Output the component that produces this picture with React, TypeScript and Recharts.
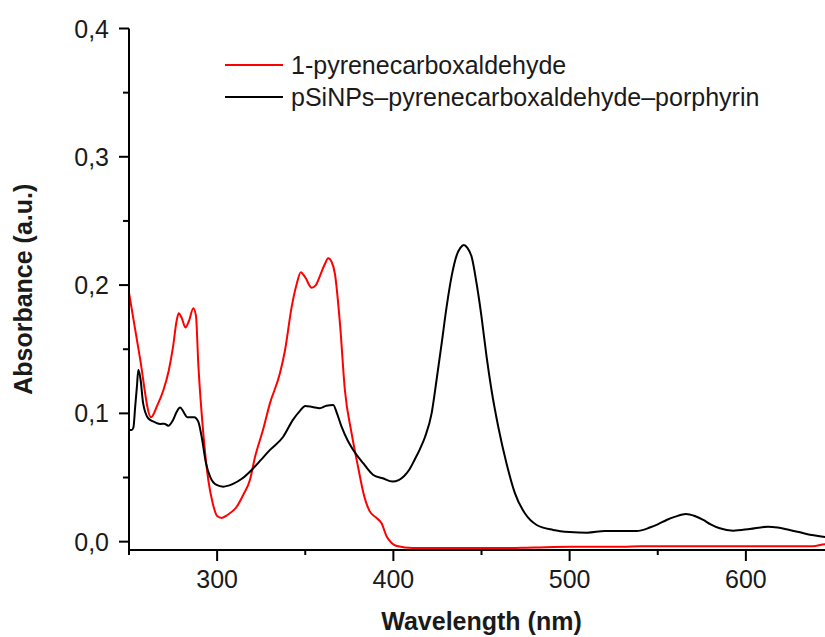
import React from "react"
import { LineChart, Line, XAxis, YAxis, Legend } from "recharts"

const FONT = "'Liberation Sans', Arial, sans-serif"
const TEXT = "#1a1a1a"

// 1-pyrenecarboxaldehyde
const pyreneWl = [
  250, 256, 262.5, 266, 269.5, 272.5, 275, 277, 278.2, 280, 282, 284, 286.5, 288,
  289.3, 292, 295, 297.5, 300, 302.6, 306, 311, 315, 318.6, 321.5, 326, 330, 335.6,
  338.5, 342.3, 345, 347.5, 350, 353.6, 356, 358.3, 361, 363, 365, 366.8, 369.7,
  372.5, 376.3, 380, 383, 386.7, 390, 393.3, 396.2, 399, 402, 411, 430, 460, 480,
  500, 530, 540, 560, 600, 638, 645, 650,
]
const pyreneAbs = [
  0.194, 0.145, 0.097, 0.106, 0.118, 0.133, 0.152, 0.172, 0.178, 0.174, 0.167, 0.172, 0.182, 0.176,
  0.139, 0.087, 0.048, 0.03, 0.02, 0.0185, 0.021, 0.027, 0.037, 0.048, 0.066, 0.087, 0.108, 0.131,
  0.149, 0.183, 0.2, 0.21, 0.206, 0.198, 0.2, 0.207, 0.216, 0.221, 0.218, 0.209, 0.17,
  0.118, 0.0845, 0.058, 0.038, 0.0234, 0.019, 0.0143, 0.004, -0.001, -0.0034, -0.005, -0.005, -0.005, -0.0045,
  -0.004, -0.004, -0.0035, -0.0035, -0.0035, -0.0035, -0.002, -0.002,
]

// pSiNPs–pyrenecarboxaldehyde–porphyrin
const hybridWl = [
  250, 251.5, 252.5, 253.5, 254.5, 255.3, 256.6, 258, 261, 264, 267.6, 270, 272.3, 275,
  277, 279, 281, 283, 285, 287, 289.3, 291.2, 293.7, 296, 299.7, 303.5, 309, 314, 320,
  325, 330, 337.5, 343, 347, 350, 354, 358.3, 362, 365.9, 368, 370.6, 374, 377.2, 383,
  388.6, 394, 399.5, 403, 406, 409, 412, 415, 418, 421.7, 424.5, 427.4, 430.2, 433, 436,
  438, 440, 442, 444.4, 447.2, 450, 452.9, 455.7, 459.5, 464.2, 469, 474.6, 481.3, 490.7,
  500, 510, 520, 530, 538, 545.5, 550, 555, 560, 566, 571, 575.8, 580, 585.2, 592.8,
  602.2, 612.6, 618, 623, 630, 634.4, 643.8, 650,
]
const hybridAbs = [
  0.087, 0.087, 0.089, 0.105, 0.121, 0.134, 0.126, 0.108, 0.096, 0.0935, 0.0917, 0.092, 0.0904, 0.0949,
  0.101, 0.1045, 0.101, 0.097, 0.097, 0.097, 0.0935, 0.082, 0.061, 0.0507, 0.0442, 0.0429, 0.045, 0.049, 0.0565,
  0.064, 0.0715, 0.0818, 0.0949, 0.102, 0.1058, 0.105, 0.104, 0.106, 0.1066, 0.1, 0.0896, 0.079, 0.0715, 0.061,
  0.052, 0.0494, 0.0468, 0.048, 0.051, 0.056, 0.0637, 0.072, 0.0818, 0.1, 0.126, 0.1546, 0.183, 0.2066, 0.2235,
  0.229, 0.2313, 0.229, 0.222, 0.2014, 0.1754, 0.144, 0.118, 0.0896, 0.061, 0.0377, 0.0221, 0.013, 0.0091,
  0.0075, 0.007, 0.0083, 0.0083, 0.0083, 0.011, 0.0135, 0.0169, 0.0195, 0.0216, 0.02, 0.0169, 0.0135, 0.0104, 0.0086,
  0.0099, 0.0117, 0.011, 0.0097, 0.0075, 0.006, 0.0039, 0.003,
]

const X_TICKS = [250, 300, 350, 400, 450, 500, 550, 600, 650]
const X_MAJOR = [300, 400, 500, 600]
const Y_TICKS = [0, 0.05, 0.1, 0.15, 0.2, 0.25, 0.3, 0.35, 0.4]

const SERIES = [
  { name: "1-pyrenecarboxaldehyde", color: "#ff0000", wl: pyreneWl, abs: pyreneAbs },
  { name: "pSiNPs\u2013pyrenecarboxaldehyde\u2013porphyrin", color: "#000000", wl: hybridWl, abs: hybridAbs },
]

const toPoints = (wl: number[], abs: number[]) => wl.map((x, i) => ({ x, y: abs[i] }))

const isMajorY = (v: number) => Math.round(v * 100) % 10 === 0
const fmtY = (v: number) => v.toFixed(1).replace(".", ",")

const BottomTick = ({ x, y, payload }: any) => {
  const major = X_MAJOR.includes(payload.value)
  return (
    <g>
      <line x1={x} x2={x} y1={y} y2={y + (major ? 11 : 5)} stroke="#000" strokeWidth={2} />
      {major && (
        <text x={x} y={y + 38} textAnchor="middle" fontSize={25} fontFamily={FONT} fill={TEXT}>
          {payload.value}
        </text>
      )}
    </g>
  )
}

const TopTick = ({ x, y, payload }: any) => {
  const major = X_MAJOR.includes(payload.value)
  return <line x1={x} x2={x} y1={y} y2={y + (major ? 11 : 5)} stroke="#000" strokeWidth={2} />
}

const LeftTick = ({ x, y, payload }: any) => {
  const major = isMajorY(payload.value)
  return (
    <g>
      <line x1={x - (major ? 10 : 6)} x2={x} y1={y} y2={y} stroke="#000" strokeWidth={2} />
      {major && (
        <text x={x - 20} y={y} dy="0.36em" textAnchor="end" fontSize={25} fontFamily={FONT} fill={TEXT}>
          {fmtY(payload.value)}
        </text>
      )}
    </g>
  )
}

const RightTick = ({ x, y, payload }: any) => {
  const major = isMajorY(payload.value)
  return <line x1={x - (major ? 10 : 6)} x2={x} y1={y} y2={y} stroke="#000" strokeWidth={2} />
}

const LegendBox = () => (
  <div style={{ fontFamily: FONT, fontSize: 25, color: TEXT }}>
    {SERIES.map((s) => (
      <div key={s.name} style={{ display: "flex", alignItems: "center", height: 32 }}>
        <svg width={58} height={4} style={{ display: "block" }}>
          <line x1={0} x2={58} y1={2} y2={2} stroke={s.color} strokeWidth={2} />
        </svg>
        <span style={{ marginLeft: 8, lineHeight: "32px", whiteSpace: "nowrap" }}>{s.name}</span>
      </div>
    ))}
  </div>
)

export default function App() {
  return (
    // pinned to the viewport so the oversized chart is clipped without scrollbars
    <div style={{ position: "absolute", left: 0, top: 0, width: 825, height: 637, overflow: "hidden" }}>
      <LineChart width={834} height={650} margin={{ top: 28.5, right: 0, left: 8, bottom: 0 }}>
        <XAxis
          dataKey="x"
          type="number"
          domain={[250, 650]}
          ticks={X_TICKS}
          interval={0}
          allowDataOverflow
          height={100}
          tickSize={0}
          tickMargin={0}
          tickLine={false}
          tick={<BottomTick />}
          axisLine={{ stroke: "#000", strokeWidth: 2 }}
          label={{
            value: "Wavelength (nm)",
            position: "insideBottom",
            offset: 20,
            style: { fontFamily: FONT, fontSize: 25, fontWeight: "bold", fill: TEXT },
          }}
        />
        <XAxis
          xAxisId="top"
          dataKey="x"
          type="number"
          orientation="top"
          domain={[250, 650]}
          ticks={X_TICKS}
          interval={0}
          allowDataOverflow
          height={0}
          tickSize={0}
          tickMargin={0}
          tickLine={false}
          tick={<TopTick />}
          axisLine={{ stroke: "#000", strokeWidth: 2 }}
        />
        <YAxis
          type="number"
          domain={[-0.0065, 0.4]}
          ticks={Y_TICKS}
          interval={0}
          allowDataOverflow
          width={121}
          tickSize={0}
          tickMargin={0}
          tickLine={false}
          tick={<LeftTick />}
          axisLine={{ stroke: "#000", strokeWidth: 2 }}
          label={{
            value: "Absorbance (a.u.)",
            angle: -90,
            position: "insideLeft",
            offset: 15,
            style: { textAnchor: "middle", fontFamily: FONT, fontSize: 25, fontWeight: "bold", fill: TEXT },
          }}
        />
        <YAxis
          yAxisId="right"
          type="number"
          orientation="right"
          domain={[-0.0065, 0.4]}
          ticks={Y_TICKS}
          interval={0}
          allowDataOverflow
          width={0}
          tickSize={0}
          tickMargin={0}
          tickLine={false}
          tick={<RightTick />}
          axisLine={{ stroke: "#000", strokeWidth: 2 }}
        />
        <Legend
          layout="vertical"
          align="center"
          verticalAlign="middle"
          wrapperStyle={{ left: 225, top: 49, width: "auto" }}
          content={<LegendBox />}
        />
        {SERIES.map((s) => (
          <Line
            key={s.name}
            data={toPoints(s.wl, s.abs)}
            dataKey="y"
            name={s.name}
            type="monotone"
            stroke={s.color}
            strokeWidth={2}
            dot={false}
            activeDot={false}
            isAnimationActive={false}
          />
        ))}
      </LineChart>
    </div>
  )
}
